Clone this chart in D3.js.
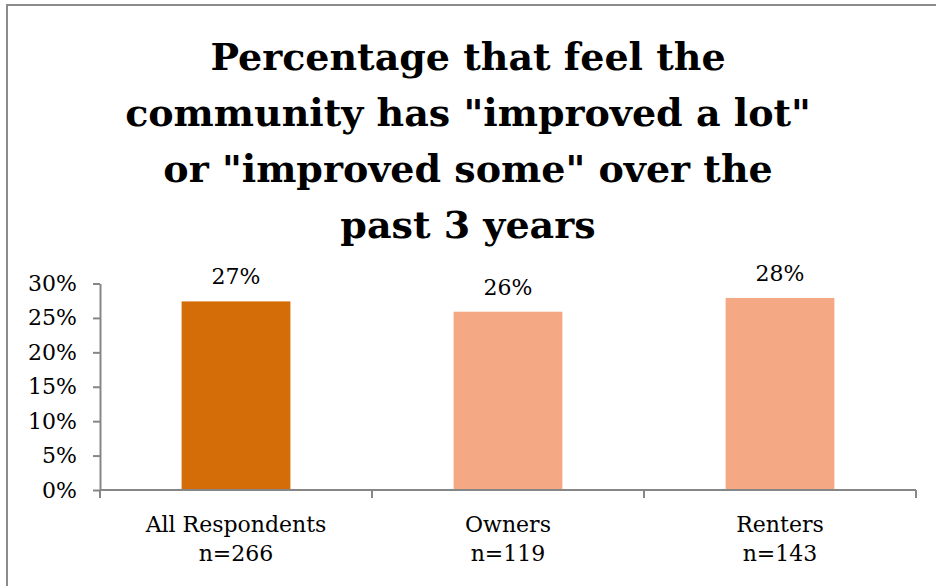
<!DOCTYPE html>
<html>
<head>
<meta charset="utf-8">
<script src="https://cdn.jsdelivr.net/npm/d3@7"></script>
<style>
  html, body { margin: 0; padding: 0; background: #fff; }
  svg { display: block; }
</style>
</head>
<body>
<svg id="chart" width="936" height="586"></svg>
<script>
// Survey results: share of each group saying the community improved
const categories = ["All Respondents", "Owners", "Renters"];
const sampleSizes = ["n=266", "n=119", "n=143"];
const values = [0.274, 0.259, 0.279];
const barColors = ["#D46D07", "#F4A884", "#F4A884"];
const yTicks = [0, 0.05, 0.10, 0.15, 0.20, 0.25, 0.30];
const titleLines = [
  "Percentage that feel the",
  "community has \"improved a lot\"",
  "or \"improved some\" over the",
  "past 3 years"
];

const svg = d3.select("#chart");
const axisColor = "#868686";
const serif = "'DejaVu Serif', serif";

// Outer chart frame
svg.append("rect")
  .attr("x", 7).attr("y", 5)
  .attr("width", 940).attr("height", 600)
  .attr("fill", "none")
  .attr("stroke", "#8c8c8c")
  .attr("stroke-width", 2);

// Title
const title = svg.append("text")
  .attr("text-anchor", "middle")
  .attr("font-family", serif)
  .attr("font-weight", "bold")
  .attr("font-size", 38)
  .attr("fill", "#000");
titleLines.forEach((line, i) => {
  title.append("tspan")
    .attr("x", 468)
    .attr("y", 70 + i * 56)
    .text(line);
});

// Scales
const x = d3.scaleBand().domain(categories).range([100, 916]).padding(0);
const y = d3.scaleLinear().domain([0, 0.30]).range([490, 283.5]);
const barW = x.bandwidth() * 0.4;

// Y axis
const yAxis = svg.append("g")
  .attr("transform", "translate(100,0)")
  .call(d3.axisLeft(y).tickValues(yTicks).tickFormat(d3.format(".0%")).tickSize(7).tickSizeOuter(0).tickPadding(16));
yAxis.select(".domain").attr("stroke", axisColor).attr("stroke-width", 2);
yAxis.selectAll(".tick line").attr("stroke", axisColor).attr("stroke-width", 2);
yAxis.selectAll(".tick text")
  .attr("font-family", serif)
  .attr("font-size", 22)
  .attr("fill", "#000");

// Bars
svg.append("g").selectAll("rect")
  .data(categories)
  .join("rect")
  .attr("x", d => x(d) + (x.bandwidth() - barW) / 2)
  .attr("y", (d, i) => y(values[i]))
  .attr("width", barW)
  .attr("height", (d, i) => y(0) - y(values[i]))
  .attr("fill", (d, i) => barColors[i]);

// Value labels
svg.append("g").selectAll("text")
  .data(categories)
  .join("text")
  .attr("x", d => x(d) + x.bandwidth() / 2)
  .attr("y", (d, i) => y(values[i]) - 17)
  .attr("text-anchor", "middle")
  .attr("font-family", serif)
  .attr("font-size", 22)
  .attr("fill", "#000")
  .text((d, i) => d3.format(".0%")(values[i]));

// X axis with ticks at category boundaries
const xAxis = svg.append("g").attr("transform", "translate(0,490)");
xAxis.append("line")
  .attr("x1", 100).attr("x2", 916)
  .attr("y1", 0).attr("y2", 0)
  .attr("stroke", axisColor).attr("stroke-width", 2);
const boundaries = categories.map(c => x(c)).concat([x(categories[categories.length - 1]) + x.bandwidth()]);
xAxis.selectAll("line.tick")
  .data(boundaries)
  .join("line")
  .attr("class", "tick")
  .attr("x1", d => d).attr("x2", d => d)
  .attr("y1", 0).attr("y2", 8)
  .attr("stroke", axisColor).attr("stroke-width", 2);

// Category labels (two lines each)
const catLabels = xAxis.selectAll("text.cat")
  .data(categories)
  .join("text")
  .attr("class", "cat")
  .attr("text-anchor", "middle")
  .attr("font-family", serif)
  .attr("font-size", 22)
  .attr("fill", "#000");
catLabels.append("tspan")
  .attr("x", d => x(d) + x.bandwidth() / 2)
  .attr("y", 42)
  .text(d => d);
catLabels.append("tspan")
  .attr("x", d => x(d) + x.bandwidth() / 2)
  .attr("y", 71)
  .text((d, i) => sampleSizes[i]);
</script>
</body>
</html>
